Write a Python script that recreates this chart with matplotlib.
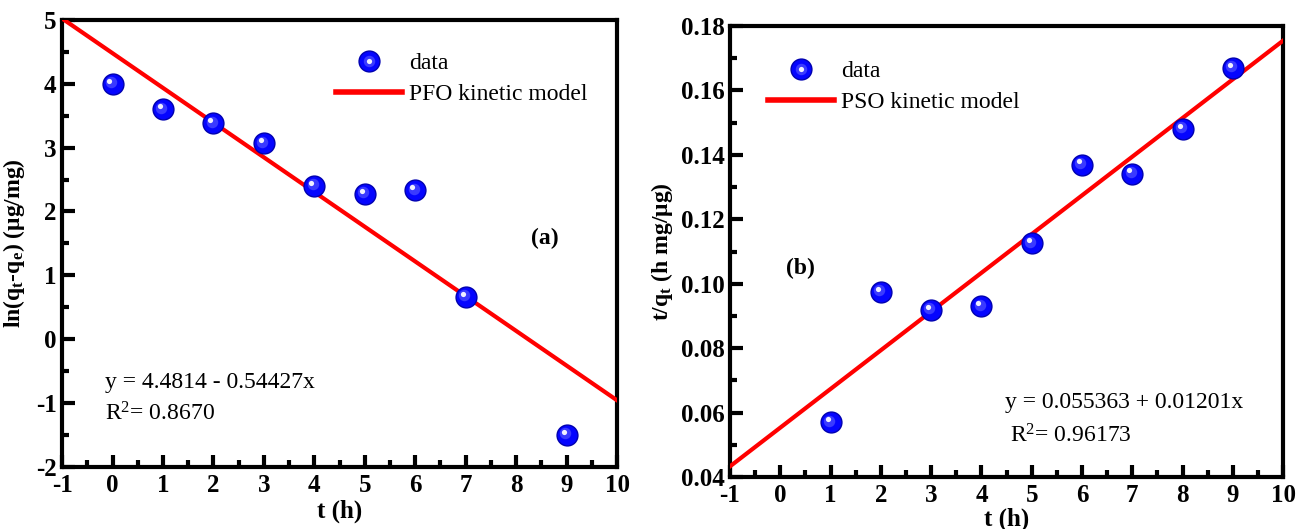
import matplotlib
matplotlib.use('Agg')
import matplotlib.pyplot as plt
import matplotlib.transforms as mtransforms
from matplotlib.lines import Line2D
from matplotlib.legend_handler import HandlerTuple
import numpy as np

plt.rcParams['font.family'] = 'Liberation Serif'
plt.rcParams['mathtext.fontset'] = 'custom'
plt.rcParams['mathtext.rm'] = 'Liberation Serif'
plt.rcParams['mathtext.bf'] = 'Liberation Serif:bold'
plt.rcParams['mathtext.it'] = 'Liberation Serif:italic'
plt.rcParams['axes.unicode_minus'] = False

# PFO data (a)
t_a = [0, 1, 2, 3, 4, 5, 6, 7, 9]
ln_q = [4.0, 3.6, 3.38, 3.07, 2.4, 2.28, 2.33, 0.66, -1.5]
pfo_b, pfo_m = 4.4814, -0.54427
pfo_r2 = 0.8670

# PSO data (b)
t_b = [1, 2, 3, 4, 5, 6, 7, 8, 9]
t_over_q = [0.057, 0.0975, 0.092, 0.093, 0.1125, 0.137, 0.1342, 0.148, 0.167]
pso_b, pso_m = 0.055363, 0.01201
pso_r2 = 0.96173

x_fit = np.array([-1, 10])

fig = plt.figure(figsize=(12.98, 5.29), dpi=100)
ax1 = fig.add_axes([0.0478, 0.118, 0.4276, 0.844])
ax2 = fig.add_axes([0.5624, 0.098, 0.4262, 0.853])

BALL = dict(base='#0505ff', edge='#0000b0', mid='#3a3aff', hi='#f0f0ff')
MS = 15


def sphere(ax, x, y, size=MS, zorder=5):
    # blue ball with a soft highlight toward the upper left
    ax.plot(x, y, 'o', ms=size, color=BALL['base'], mec=BALL['edge'], mew=1, ls='none', zorder=zorder)
    off1 = mtransforms.offset_copy(ax.transData, fig=fig, x=-1.2, y=1.2, units='points')
    ax.plot(x, y, 'o', ms=size * 0.55, color=BALL['mid'], mew=0, ls='none', transform=off1, zorder=zorder + 1)
    off2 = mtransforms.offset_copy(ax.transData, fig=fig, x=-2.2, y=2.2, units='points')
    ax.plot(x, y, 'o', ms=size * 0.25, color=BALL['hi'], mew=0, ls='none', transform=off2, zorder=zorder + 2)


def style(ax):
    for sp in ax.spines.values():
        sp.set_linewidth(3)
    ax.tick_params(which='major', direction='in', length=9, width=3, labelsize=18,
                   top=False, right=False)
    ax.tick_params(which='minor', direction='in', length=5, width=3, top=False, right=False)
    ax.tick_params(axis='x', pad=5)
    ax.tick_params(axis='y', pad=4)
    for lab in ax.get_xticklabels() + ax.get_yticklabels():
        lab.set_fontweight('bold')


def legend_handles():
    ball = Line2D([], [], marker='o', ms=MS, color=BALL['base'], mec=BALL['edge'], ls='none')
    mid = Line2D([], [], marker='o', ms=MS * 0.55, color=BALL['mid'], mew=0, ls='none')
    hi = Line2D([], [], marker='o', ms=MS * 0.25, color=BALL['hi'], mew=0, ls='none')
    return (ball, mid, hi)


# (a) PFO
ax1.plot(x_fit, pfo_b + pfo_m * x_fit, color='#ff0000', lw=3, zorder=3)
sphere(ax1, t_a, ln_q)
ax1.set_xlim(-1, 10)
ax1.set_ylim(-2, 5)
ax1.set_xticks(range(-1, 11))
ax1.set_xticks(np.arange(-1, 10.01, 0.5), minor=True)
ax1.set_yticks(range(-2, 6))
ax1.set_yticks(np.arange(-2, 5.01, 0.5), minor=True)
style(ax1)
ax1.set_xlabel('t (h)', fontsize=18, fontweight='bold', labelpad=2)
ax1.set_ylabel(r'ln(q$_\mathbf{t}$-q$_\mathbf{e}$) ($\mathbf{\mu}$g/mg)', fontsize=17,
               fontweight='bold', labelpad=6)
ax1.legend([legend_handles(), Line2D([], [], color='#ff0000', lw=4)],
           ['data', 'PFO kinetic model'],
           handler_map={tuple: HandlerTuple(ndivide=1, pad=0)},
           loc='upper right', bbox_to_anchor=(0.985, 0.975), frameon=False,
           fontsize=17, handlelength=2.8, handletextpad=0.3, labelspacing=0.4)
ax1.text(0.87, 0.512, '(a)', transform=ax1.transAxes, fontsize=17, fontweight='bold',
         ha='center', va='center')
ax1.text(0.077, 0.189, f'y = {pfo_b} - {abs(pfo_m)}x', transform=ax1.transAxes,
         fontsize=17, va='center')
ax1.text(0.077, 0.119, f'R$^2$= {pfo_r2:.4f}', transform=ax1.transAxes,
         fontsize=17, va='center')

# (b) PSO
ax2.plot(x_fit, pso_b + pso_m * x_fit, color='#ff0000', lw=3, zorder=3)
sphere(ax2, t_b, t_over_q)
ax2.set_xlim(-1, 10)
ax2.set_ylim(0.04, 0.18)
ax2.set_xticks(range(-1, 11))
ax2.set_xticks(np.arange(-1, 10.01, 0.5), minor=True)
ax2.set_yticks(np.arange(0.04, 0.181, 0.02))
ax2.set_yticks(np.arange(0.04, 0.181, 0.01), minor=True)
ax2.yaxis.set_major_formatter(matplotlib.ticker.FormatStrFormatter('%.2f'))
style(ax2)
ax2.set_xlabel('t (h)', fontsize=18, fontweight='bold', labelpad=0)
ax2.set_ylabel(r't/q$_\mathbf{t}$ (h mg/$\mathbf{\mu}$g)', fontsize=17,
               fontweight='bold', labelpad=4)
ax2.legend([legend_handles(), Line2D([], [], color='#ff0000', lw=4)],
           ['data', 'PSO kinetic model'],
           handler_map={tuple: HandlerTuple(ndivide=1, pad=0)},
           loc='upper left', bbox_to_anchor=(0.03, 0.97), frameon=False,
           fontsize=17, handlelength=2.8, handletextpad=0.3, labelspacing=0.4)
ax2.text(0.127, 0.463, '(b)', transform=ax2.transAxes, fontsize=17, fontweight='bold',
         ha='center', va='center')
ax2.text(0.497, 0.166, f'y = {pso_b} + {pso_m}x', transform=ax2.transAxes,
         fontsize=17, va='center')
ax2.text(0.507, 0.091, f'R$^2$= {pso_r2}', transform=ax2.transAxes,
         fontsize=17, va='center')

fig.savefig('out.png', dpi=100)
